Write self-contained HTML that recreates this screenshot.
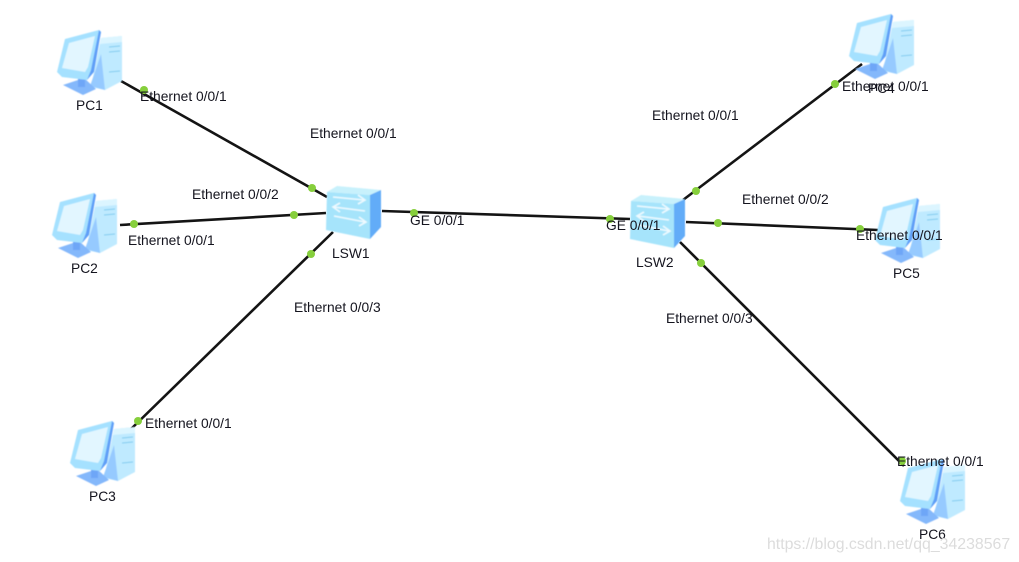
<!DOCTYPE html>
<html><head><meta charset="utf-8"><style>
html,body{margin:0;padding:0;background:#fff;width:1019px;height:562px;overflow:hidden}
svg{display:block}
text{font-family:"Liberation Sans",sans-serif;font-size:13.8px;fill:#14141e}
.w{font-size:15.85px;fill:#dcdcdc}
</style></head><body>
<svg width="1019" height="562" viewBox="0 0 1019 562" xmlns="http://www.w3.org/2000/svg">
<defs>
<filter id="b" x="-10%" y="-10%" width="120%" height="120%"><feGaussianBlur stdDeviation="0.5"/></filter>
<g id="pc" filter="url(#b)">
 <path d="M44 8 L65 6 L65 51 L48 60 L34 57 Z" fill="#bfeaff"/>
 <path d="M44 8 L65 6 L65 12 L43 14 Z" fill="#dcf5ff"/>
 <path d="M48 60 L44 24 L38 42 L33 56 Z" fill="#96caff"/>
 <path d="M52 17 L63 16 M52 22 L63 21 M52 42 L63 41" stroke="#7fcbef" stroke-width="1"/>
 <path d="M6 55 L27 48 L39 59 L26 65 Z" fill="#84b8fb"/>
 <path d="M21 47 L28 46 L28 57 L21 57 Z" fill="#6ea6f7"/>
 <path d="M0 42 L8 9 L42 0 L44 2 L36 42 L30 50 L5 47 Z" fill="#a5e1ff"/>
 <path d="M42 0 L44 2 L37 42 L30 50 L34 40 Z" fill="#5f9ff7"/>
 <path d="M5 38 L12 13 L38 6 L31 37 L28 42 Z" fill="#e2f6ff"/>
</g>
<g id="sw" filter="url(#b)">
 <path d="M1 7 L11 1 L55 5 L44 10 Z" fill="#c8f1fc"/>
 <path d="M1 7 L44 10 L44 54 L0 45 Z" fill="#a6e4fb"/>
 <path d="M44 10 L55 5 L55 42 L44 54 Z" fill="#62acf8"/>
 <g fill="none" stroke="#eefaff" stroke-width="1.6">
  <path d="M7 12 L38 15 M32 10 L39 15 L32 19"/>
  <path d="M39 26 L8 22 M14 18 L7 22 L14 27"/>
  <path d="M8 31 L39 37 M33 32 L40 37 L33 41"/>
 </g>
</g>
</defs>
<g stroke="#141414" stroke-width="2.6" fill="none">
 <line x1="121" y1="81" x2="327" y2="197"/>
 <line x1="120" y1="225" x2="326" y2="213"/>
 <line x1="130" y1="430" x2="333" y2="232"/>
 <line x1="382" y1="211" x2="630" y2="219"/>
 <line x1="683" y1="200" x2="862" y2="64"/>
 <line x1="686" y1="222" x2="878" y2="230"/>
 <line x1="680" y1="242" x2="904" y2="466"/>
</g>
<use href="#pc" x="57" y="30"/>
<use href="#pc" x="52" y="193"/>
<use href="#pc" x="70" y="421"/>
<use href="#pc" x="849" y="14"/>
<use href="#pc" x="875" y="198"/>
<use href="#pc" x="900" y="459"/>
<use href="#sw" x="326" y="185"/>
<use href="#sw" x="630" y="194"/>
<g fill="#86cf3c">
 <circle cx="144" cy="90" r="4"/><circle cx="312" cy="188" r="4"/>
 <circle cx="134" cy="224" r="4"/><circle cx="294" cy="215" r="4"/>
 <circle cx="138" cy="421" r="4"/><circle cx="311" cy="254" r="4"/>
 <circle cx="414" cy="213" r="4"/><circle cx="610" cy="219" r="4"/>
 <circle cx="696" cy="191" r="4"/><circle cx="835" cy="84" r="4"/>
 <circle cx="718" cy="223" r="4"/><circle cx="860" cy="229" r="4"/>
 <circle cx="701" cy="263" r="4"/><circle cx="902" cy="461" r="4"/>
</g>
<g>
 <text x="140" y="101">Ethernet 0/0/1</text>
 <text x="310" y="138">Ethernet 0/0/1</text>
 <text x="192" y="199">Ethernet 0/0/2</text>
 <text x="128" y="245">Ethernet 0/0/1</text>
 <text x="294" y="312">Ethernet 0/0/3</text>
 <text x="145" y="428">Ethernet 0/0/1</text>
 <text x="410" y="225">GE 0/0/1</text>
 <text x="606" y="230">GE 0/0/1</text>
 <text x="652" y="120">Ethernet 0/0/1</text>
 <text x="842" y="91">Ethernet 0/0/1</text>
 <text x="742" y="204">Ethernet 0/0/2</text>
 <text x="856" y="240">Ethernet 0/0/1</text>
 <text x="666" y="323">Ethernet 0/0/3</text>
 <text x="897" y="466">Ethernet 0/0/1</text>
 <text x="76" y="110">PC1</text>
 <text x="71" y="273">PC2</text>
 <text x="89" y="501">PC3</text>
 <text x="868" y="93">PC4</text>
 <text x="893" y="278">PC5</text>
 <text x="919" y="539">PC6</text>
 <text x="332" y="258">LSW1</text>
 <text x="636" y="267">LSW2</text>
</g>
<text class="w" x="767" y="549">https://blog.csdn.net/qq_34238567</text>
</svg>
</body></html>
